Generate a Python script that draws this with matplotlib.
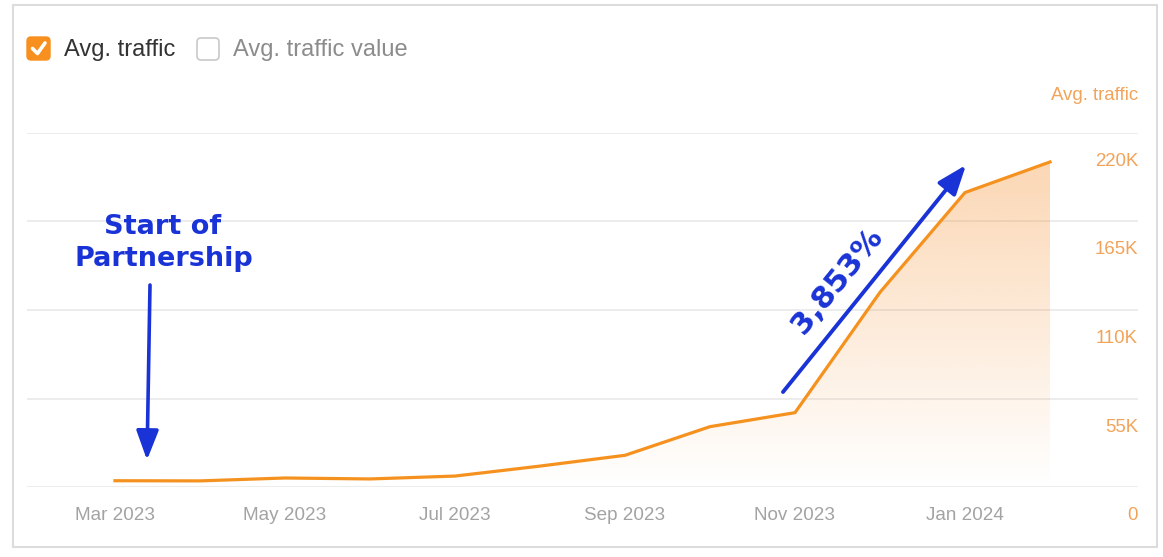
import matplotlib
matplotlib.use("Agg")
import matplotlib.pyplot as plt
import numpy as np
from matplotlib.patches import FancyBboxPatch, Rectangle
from matplotlib.lines import Line2D
from matplotlib.transforms import IdentityTransform

# data
months = ["Mar 2023", "Apr 2023", "May 2023", "Jun 2023", "Jul 2023", "Aug 2023",
          "Sep 2023", "Oct 2023", "Nov 2023", "Dec 2023", "Jan 2024", "Feb 2024"]
traffic = [3900, 3800, 5600, 5000, 6800, 13000, 19700, 37500, 46200, 121000, 183000, 202000]
tick_idx = [0, 2, 4, 6, 8, 10]
yticks = [0, 55000, 110000, 165000, 220000]
ylabels = ["0", "55K", "110K", "165K", "220K"]

W, H = 1163, 557
ORANGE = "#f5921f"
LABEL_ORANGE = "#f2a35a"
BLUE = "#1a33d6"
plt.rcParams["font.family"] = ["Liberation Sans", "DejaVu Sans"]


def fy(y):  # screenshot y (top-down) -> figure pixels (bottom-up)
    return H - y


fig = plt.figure(figsize=(W / 100, H / 100), dpi=100)
fig.patch.set_facecolor("white")

# card frame
fig.add_artist(Rectangle((13, fy(547)), 1144, 542, transform=IdentityTransform(),
                         facecolor="none", edgecolor="#dcdcdc", lw=1.5))

ax = fig.add_axes([27 / W, (H - 487) / H, (1138 - 27) / W, (487 - 133) / H])
x = np.arange(len(traffic))
y = np.array(traffic)

# gradient fill under the line
grad = np.zeros((256, 1, 4))
grad[..., :3] = matplotlib.colors.to_rgb("#f58c28")
grad[..., 3] = np.linspace(0.0, 0.38, 256)[:, None]
im = ax.imshow(grad, extent=[x[0], x[-1], 0, 220000], origin="lower",
               aspect="auto", zorder=1, interpolation="bilinear")
poly = ax.fill_between(x, y, 0, color="none", lw=0)
im.set_clip_path(poly.get_paths()[0], ax.transData)

ax.plot(x, y, color=ORANGE, lw=2.3, solid_joinstyle="round", zorder=3)

ax.set_xlim(-88 / 85, 11 + 88 / 85)
ax.set_ylim(0, 220000)
ax.set_yticks(yticks)
ax.set_xticks([])
ax.tick_params(length=0, labelleft=False, labelbottom=False)
ax.grid(axis="y", color="#ebebeb", lw=1.3)
ax.set_axisbelow(True)
for s in ax.spines.values():
    s.set_visible(False)

# y labels sit under their gridline, on the right
for v, lab in zip(yticks, ylabels):
    ax.annotate(lab, xy=(1, v), xycoords=("axes fraction", "data"),
                xytext=(0, -33), textcoords="offset pixels", ha="right",
                va="baseline", color=LABEL_ORANGE, fontsize=13.4)
ax.annotate("Avg. traffic", xy=(1, 220000), xycoords=("axes fraction", "data"),
            xytext=(0, 33), textcoords="offset pixels", ha="right",
            va="baseline", color=LABEL_ORANGE, fontsize=13.4)

# x labels
for i in tick_idx:
    ax.annotate(months[i], xy=(i, 0), xytext=(0, -33), textcoords="offset pixels",
                ha="center", va="baseline", color="#a3a3a3", fontsize=13.6)

# legend checkboxes
fig.add_artist(FancyBboxPatch((27, fy(60)), 23, 23, boxstyle="round,pad=0,rounding_size=4",
                              transform=IdentityTransform(), facecolor="#f7901e",
                              edgecolor="#f7901e", lw=1))
fig.add_artist(Line2D([32.5, 37.5, 45], [fy(48.5), fy(53.5), fy(43)],
                      transform=IdentityTransform(), color="white", lw=2.6,
                      solid_capstyle="round", solid_joinstyle="round"))
fig.add_artist(FancyBboxPatch((197, fy(60)), 22, 22, boxstyle="round,pad=0,rounding_size=4",
                              transform=IdentityTransform(), facecolor="white",
                              edgecolor="#c9c9c9", lw=1.2))
fig.text(64 / W, fy(56) / H, "Avg. traffic", color="#333333", fontsize=17, va="baseline")
fig.text(233 / W, fy(56) / H, "Avg. traffic value", color="#8c8c8c", fontsize=17, va="baseline")

# hand-drawn style annotations
ann_font = dict(family="DejaVu Sans", weight="bold", color=BLUE)
fig.text(163 / W, fy(234) / H, "Start of", ha="center", va="baseline", fontsize=19.5, **ann_font)
fig.text(163.5 / W, fy(266) / H, "Partnership", ha="center", va="baseline", fontsize=19.5, **ann_font)
fig.add_artist(matplotlib.patches.FancyArrowPatch(
    (150, fy(285)), (147, fy(460)), transform=IdentityTransform(),
    arrowstyle="-|>,head_length=0.45,head_width=0.17", mutation_scale=40,
    color=BLUE, lw=2.6, shrinkA=0, shrinkB=0))
fig.add_artist(matplotlib.patches.FancyArrowPatch(
    (783, fy(392)), (966, fy(165)), transform=IdentityTransform(),
    arrowstyle="-|>,head_length=0.45,head_width=0.17", mutation_scale=40,
    color=BLUE, lw=2.8, shrinkA=0, shrinkB=0))
fig.text(837 / W, fy(281) / H, "3,853%", ha="center", va="center", rotation=51,
         rotation_mode="anchor", fontsize=22, **ann_font)

fig.savefig("out.png", dpi=100)
